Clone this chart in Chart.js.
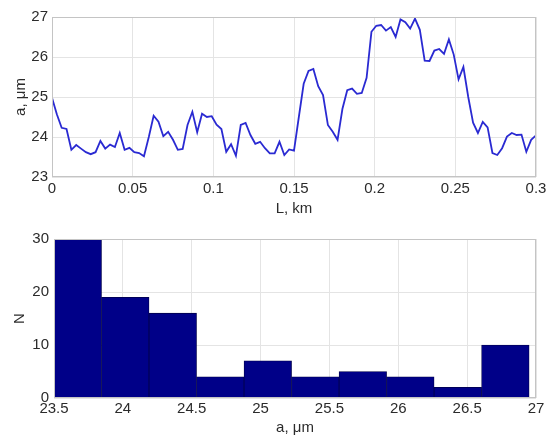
<!DOCTYPE html>
<html>
<head>
<meta charset="utf-8">
<script src="https://cdn.jsdelivr.net/npm/chart.js@4.4.1/dist/chart.umd.min.js"></script>
<style>
    html, body { margin: 0; padding: 0; background: #ffffff; }
    #wrap { position: relative; width: 557px; height: 437px; }
    #lineChart { position: absolute; left: 0; top: 0; }
    #histChart { position: absolute; left: 0; top: 218px; }
</style>
</head>
<body>
<div id="wrap">
    <canvas id="lineChart" width="557" height="218"></canvas>
    <canvas id="histChart" width="557" height="219"></canvas>
</div>
<script>
// Profile along the track: a (um) every 3 m, 0 .. 0.3 km
const stepKm = 0.003;
const profileValues = [
    24.98, 24.57, 24.23, 24.20, 23.68, 23.80, 23.71, 23.62, 23.57, 23.62,
    23.90, 23.71, 23.81, 23.75, 24.10, 23.68, 23.73, 23.62, 23.60, 23.52,
    24.00, 24.53, 24.38, 24.02, 24.13, 23.93, 23.68, 23.70, 24.30, 24.63,
    24.12, 24.58, 24.50, 24.52, 24.31, 24.20, 23.63, 23.82, 23.53, 24.30,
    24.35, 24.05, 23.83, 23.88, 23.72, 23.59, 23.59, 23.88, 23.55, 23.69,
    23.66, 24.50, 25.33, 25.65, 25.70, 25.27, 25.05, 24.30, 24.13, 23.93,
    24.70, 25.17, 25.21, 25.08, 25.10, 25.48, 26.63, 26.78, 26.80, 26.66,
    26.75, 26.50, 26.94, 26.87, 26.71, 26.96, 26.68, 25.91, 25.90, 26.16,
    26.20, 26.08, 26.44, 26.06, 25.44, 25.75, 25.00, 24.36, 24.10, 24.38,
    24.24, 23.60, 23.55, 23.72, 24.01, 24.10, 24.05, 24.06, 23.63, 23.93,
    24.04
];
const lineXTicks = [0, 0.05, 0.1, 0.15, 0.2, 0.25, 0.3];
const lineYTicks = [23, 24, 25, 26, 27];

// Histogram of a
const binEdges = [23.5, 23.845, 24.19, 24.535, 24.88, 25.225, 25.57, 25.915, 26.26, 26.605, 26.95];
const binCounts = [30, 19, 16, 4, 7, 4, 5, 4, 2, 10];
const histXTicks = [23.5, 24, 24.5, 25, 25.5, 26, 26.5, 27];
const histYTicks = [0, 10, 20, 30];

const textColor = '#2b2b2b';
const gridColor = '#e4e4e4';
const fontFamily = '"Liberation Sans", Arial, Helvetica, sans-serif';

// Box around the plot area (MATLAB "box on")
const framePlugin = {
    id: 'frame',
    afterDatasetsDraw(chart) {
        const a = chart.chartArea;
        const ctx = chart.ctx;
        ctx.save();
        ctx.strokeStyle = '#c4c4c4';
        ctx.lineWidth = 1;
        ctx.strokeRect(Math.round(a.left) + 0.5, Math.round(a.top) + 0.5,
            Math.round(a.right - a.left) - 1, Math.round(a.bottom - a.top) - 1);
        ctx.restore();
    }
};

function fixedTicks(list) {
    return function(scale) {
        scale.ticks = list.map(v => ({ value: v }));
    };
}

function axisFont() {
    return { family: fontFamily, size: 15 };
}

// Top: profile line
const profilePoints = profileValues.map((v, i) => ({ x: i * stepKm, y: v }));

new Chart(document.getElementById('lineChart'), {
    type: 'line',
    data: {
        datasets: [{
            data: profilePoints,
            borderColor: '#2a2ad2',
            borderWidth: 1.8,
            pointRadius: 0,
            tension: 0,
            fill: false
        }]
    },
    options: {
        responsive: false,
        animation: false,
        layout: { padding: { top: 17, right: 21, left: 0, bottom: 0 } },
        plugins: { legend: { display: false }, tooltip: { enabled: false } },
        scales: {
            x: {
                type: 'linear',
                min: 0,
                max: 0.3,
                afterBuildTicks: fixedTicks(lineXTicks),
                afterFit: function(scale) { scale.height = 41; },
                grid: { color: gridColor, drawTicks: false },
                border: { display: false },
                ticks: { color: textColor, font: axisFont(), padding: 3, maxRotation: 0,
                    callback: v => String(v) },
                title: { display: true, text: 'L, km', color: textColor, font: axisFont(),
                    padding: { top: 1, bottom: 0 } }
            },
            y: {
                min: 23,
                max: 27,
                afterBuildTicks: fixedTicks(lineYTicks),
                afterFit: function(scale) { scale.width = 52; },
                grid: { color: gridColor, drawTicks: false },
                border: { display: false },
                ticks: { color: textColor, font: axisFont(), padding: 4,
                    callback: v => String(v) },
                title: { display: true, text: 'a, μm', color: textColor, font: axisFont(),
                    padding: { top: 12, bottom: 0 } }
            }
        }
    },
    plugins: [framePlugin]
});

// Bottom: histogram, one bar per bin placed at the bin centre
const histPoints = binCounts.map((c, i) => ({ x: (binEdges[i] + binEdges[i + 1]) / 2, y: c }));

new Chart(document.getElementById('histChart'), {
    type: 'bar',
    data: {
        datasets: [{
            data: histPoints,
            backgroundColor: '#000088',
            borderColor: '#00004a',
            borderWidth: 0.8,
            borderSkipped: false,
            barPercentage: 1,
            categoryPercentage: 1
        }]
    },
    options: {
        responsive: false,
        animation: false,
        layout: { padding: { top: 21, right: 21, left: 0, bottom: 0 } },
        plugins: { legend: { display: false }, tooltip: { enabled: false } },
        scales: {
            x: {
                type: 'linear',
                min: 23.5,
                max: 27,
                offset: false,
                afterBuildTicks: fixedTicks(histXTicks),
                afterFit: function(scale) { scale.height = 39; },
                grid: { color: gridColor, drawTicks: false, offset: false },
                border: { display: false },
                ticks: { color: textColor, font: axisFont(), padding: 2, maxRotation: 0,
                    callback: v => String(v) },
                title: { display: true, text: 'a, μm', color: textColor, font: axisFont(),
                    padding: { top: 6, bottom: 0 } }
            },
            y: {
                min: 0,
                max: 30,
                afterBuildTicks: fixedTicks(histYTicks),
                afterFit: function(scale) { scale.width = 54; },
                grid: { color: gridColor, drawTicks: false },
                border: { display: false },
                ticks: { color: textColor, font: axisFont(), padding: 5,
                    callback: v => String(v) },
                title: { display: true, text: 'N', color: textColor, font: axisFont(),
                    padding: { top: 11, bottom: 0 } }
            }
        }
    },
    plugins: [framePlugin]
});
</script>
</body>
</html>
